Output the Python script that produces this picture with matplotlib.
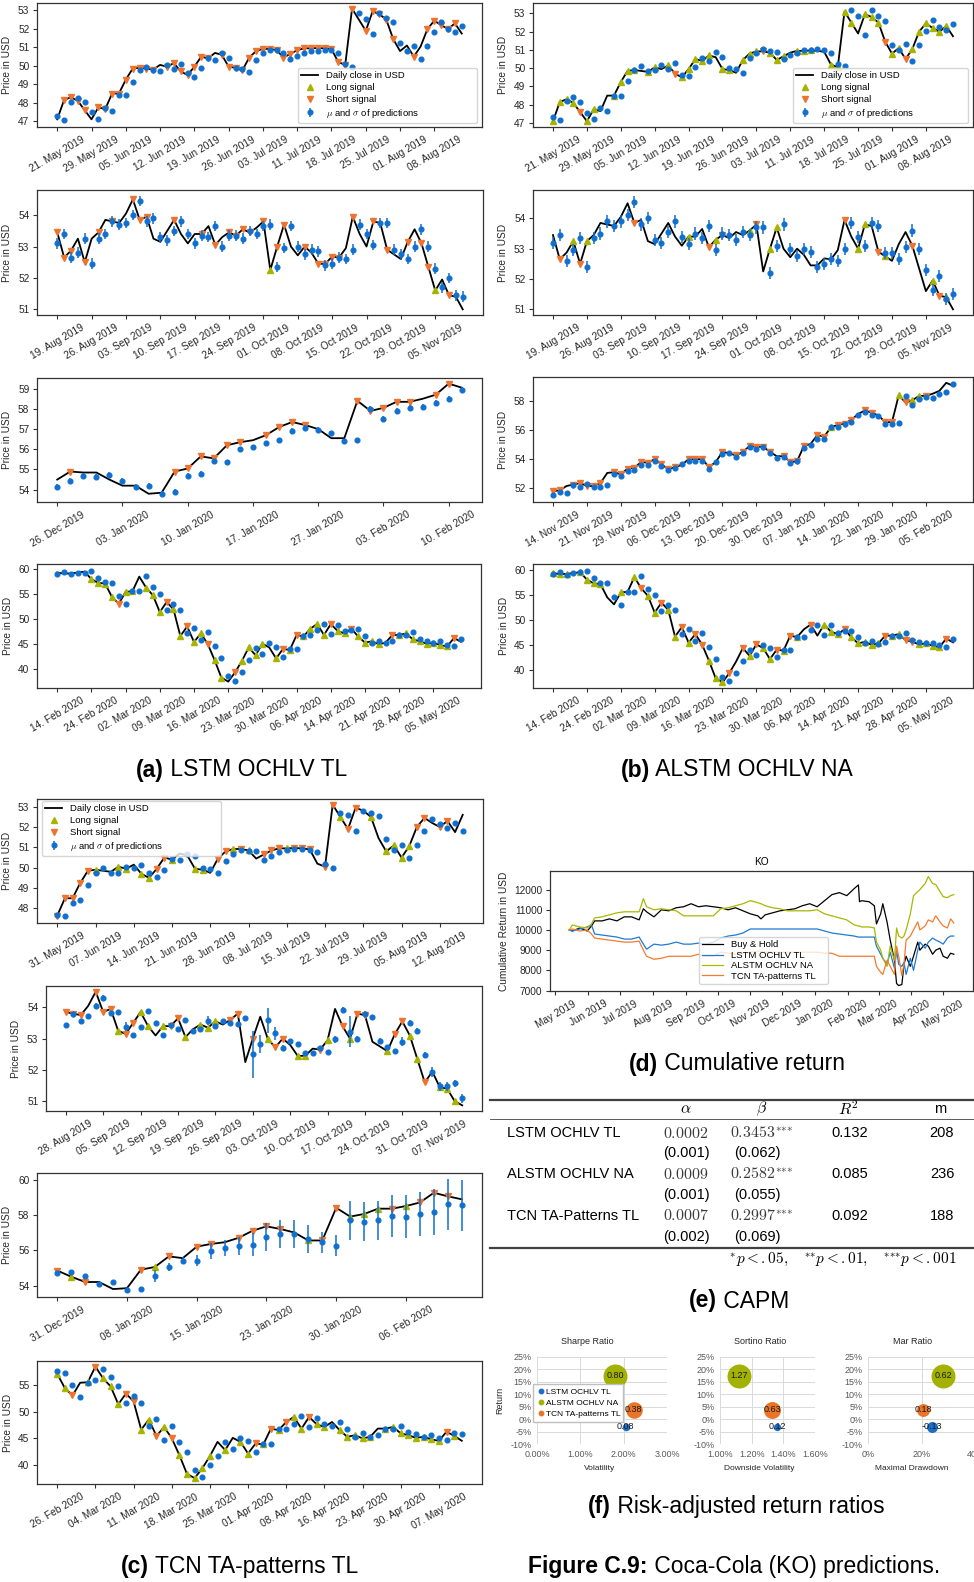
import numpy as np
import pandas as pd
import matplotlib
matplotlib.use("Agg")
import matplotlib.pyplot as plt
import matplotlib.dates as mdates
from matplotlib.lines import Line2D
from matplotlib.text import Annotation
from matplotlib.ticker import MultipleLocator

# ---------------------------------------------------------------- data ----
NYSE_HOLIDAYS = ["2019-05-27", "2019-07-04", "2019-09-02", "2019-11-28", "2019-12-25",
                 "2020-01-01", "2020-01-20", "2020-02-17", "2020-04-10"]

# KO daily close, four 61-session windows
window_start = {"w1": "2019-05-21", "w2": "2019-08-19", "w3": "2019-11-14", "w4": "2020-02-14"}
close_w1 = [47.1, 48.15, 48.3, 48.1, 47.6, 47.1, 47.75, 47.65, 48.5, 48.5,
            49.25, 49.85, 49.9, 49.85, 49.8, 50.05, 49.95, 50.15, 49.7, 49.5,
            49.95, 50.5, 50.4, 50.7, 50.6, 49.95, 49.9, 49.75, 50.45, 50.8,
            50.92, 50.92, 50.85, 50.45, 50.65, 50.85, 50.95, 50.95, 50.97, 50.95,
            50.9, 50.2, 50.05, 53.1, 52.5, 51.9, 52.95, 52.8, 52.5, 51.45,
            50.8, 51.1, 50.5, 51.05, 52.0, 52.45, 52.2, 52.0, 52.3, 51.75, 52.6]
close_w2 = [53.45, 52.65, 52.87, 53.25, 52.5, 53.25, 53.45, 53.85, 53.8, 53.75,
            54.05, 54.5, 53.85, 53.95, 53.25, 53.15, 53.5, 53.85, 53.4, 53.1,
            53.4, 53.4, 53.65, 53.05, 53.3, 53.45, 53.35, 53.55, 53.45, 53.6,
            53.8, 52.25, 53.0, 53.7, 53.0, 52.72, 53.0, 52.8, 52.45, 52.45,
            52.68, 52.65, 52.95, 53.95, 53.4, 53.0, 53.8, 53.75, 52.9, 52.75,
            52.6, 53.15, 53.55, 53.1, 52.35, 51.6, 51.95, 51.45, 51.4, 51.0, 50.87]
close_w3 = [51.8, 51.85, 52.15, 52.25, 52.35, 52.15, 52.15, 52.35, 53.05, 53.1,
            52.95, 53.35, 53.4, 53.8, 53.75, 54.0, 53.65, 53.3, 53.45, 53.6,
            54.0, 54.0, 54.0, 53.45, 53.8, 54.5, 54.4, 54.25, 54.5, 54.9,
            54.85, 54.85, 54.5, 54.2, 54.2, 53.8, 53.85, 54.9, 55.05, 55.65,
            55.55, 56.2, 56.35, 56.45, 56.7, 57.1, 57.35, 57.2, 57.0, 56.55,
            56.55, 58.4, 57.9, 58.05, 58.35, 58.35, 58.5, 58.7, 59.25, 59.05, 58.88]
close_w4 = [59.3, 59.1, 59.15, 59.3, 59.5, 58.0, 57.25, 57.1, 54.45, 53.05,
            55.45, 55.55, 58.5, 56.3, 54.75, 51.4, 53.4, 51.95, 46.6, 48.5,
            45.4, 47.1, 45.0, 41.8, 38.25, 37.45, 39.3, 41.6, 44.3, 42.75,
            45.05, 44.3, 42.1, 44.0, 43.8, 46.8, 46.5, 48.05, 49.0, 46.8,
            49.0, 47.6, 47.1, 48.05, 46.5, 45.25, 45.55, 44.95, 45.25, 46.8,
            46.8, 47.1, 45.9, 45.55, 45.05, 45.25, 44.75, 44.5, 46.2, 45.45, 44.5]

# trading signals per session: L = long, S = short, . = none
signals_a1 = ".SSSS.SSSSSSSSS.SSSSSSS.SSSSSSSSSSSSSSSSSSSS.SSSSS..S.SSSSS."
signals_b1 = "LLLLSLL..LLLL.LL.LSLLLLL.LL.LLLSLLL.LLL..LLLL.LLLSLLSLLLLLL."
signals_c1 = "SSSSSL..LL" ".LLSSL..LL" ".SSLSL.SSS" "LSSS.SSLSS" ".L.LLLLSS." "SS.."
signals_a2 = "SSS.S.S.S." ".SSS...S.." ".S.S.SSSS." "SLSS..S.SS" "SS.S..S.S." ".S.SSL.S.."
signals_b2 = ".S.LSL...." "..S......." "L..SLS...L" "S.LL......" "...S.LL.SL" "...S..LSL."
signals_c2 = "SSS.SSSLSS" "LL.LSSL.LL" "L.SS.S.LSS" ".LL.SL.SLS" "S..LSSLLS." "LLL."
signals_a3 = ".S.......SSSSSS.SSSS...SSSSS.SS."
signals_b3 = "SS.SSSSS.S" "SSSSSSSSS." "SSSS.S.SSS" "SSS.SSSS.S" "SLSSS.SS.S" "SLSLLS...."
signals_c3 = "SLS...SLS." "SS.SSSS.LS" "SLLLSLSSS."
signals_a4 = ".....LLLLS" "LL.LLLSLLS" "LLSLL.SLLL" "L.LSLSLLLL" "SLLSLLLL.S" "LLLLLLLLS."
signals_b4 = "LLL.LLLL.." "L.LSLLSLLS" "LSSLLLS.SL" "SLLSLSL.S." "LLLSLLLLLS" "LLSSLLLLS."
signals_c4 = "LLS.LSLLLS" "SLLSLSLLLL" "L.L.LLSLSL" "SLLSLL.LLL" "LL.LLLLLLL" "LSL."

# mean and standard deviation of the model predictions
pred_a1 = [47.3, 47.05, 48.05, 48.25, 48.05, 47.5, 47.1, 47.7, 47.55, 48.4,
           48.4, 49.15, 49.75, 49.95, 49.75, 49.7, 50.05, 49.85, 50.1, 49.6,
           49.4, 49.9, 50.4, 50.3, 50.7, 50.45, 49.9, 49.85, 49.65, 50.3,
           50.7, 50.85, 50.85, 50.7, 50.35, 50.55, 50.7, 50.8, 50.8, 50.85,
           50.85, 50.7, 50.1, 49.95, 52.85, 52.55, 51.75, 52.85, 52.6, 52.4,
           51.25, 50.8, 51.1, 50.35, 51.05, 51.85, 52.35, 52.0, 51.85, 52.15]
pred_b1 = [47.35, 47.15, 48.2, 48.4, 48.15, 47.55, 47.2, 47.8, 47.65, 48.5,
           48.5, 49.3, 49.9, 50.1, 49.85, 49.9, 50.2, 49.95, 50.3, 49.65,
           49.55, 50.05, 50.55, 50.4, 50.9, 50.6, 50.0, 49.95, 49.75, 50.55,
           50.85, 51.05, 50.95, 50.9, 50.5, 50.7, 50.85, 51.0, 51.0, 51.05,
           51.0, 50.85, 50.25, 50.1, 53.2, 52.85, 51.8, 53.2, 52.85, 52.6,
           51.25, 51.0, 51.35, 50.4, 51.25, 52.05, 52.65, 52.25, 52.1, 52.4]
pred_c1 = [47.68, 47.63, 48.27, 48.43, 49.13, 49.73, 49.97, 49.76, 49.73, 50.05,
           49.97, 50.13, 49.73, 49.52, 49.89, 50.45, 50.37, 50.69, 50.58, 49.97,
           49.92, 49.73, 50.32, 50.65, 50.85, 50.8, 50.8, 50.37, 50.58, 50.77,
           50.85, 50.9, 50.9, 50.85, 50.77, 50.16, 50.0, 52.7, 52.58, 51.78,
           52.8, 52.7, 52.52, 51.39, 50.85, 51.1, 50.48, 51.1, 51.82, 52.39,
           52.15, 51.94, 52.2, 51.82]
pred_a2 = [53.1, 53.4, 52.65, 52.8, 53.25, 52.45, 53.25, 53.4, 53.8, 53.7,
           53.75, 54.0, 54.45, 53.8, 53.9, 53.3, 53.2, 53.5, 53.8, 53.4,
           53.1, 53.35, 53.3, 53.65, 53.0, 53.35, 53.35, 53.25, 53.5, 53.4,
           53.65, 53.7, 52.35, 52.95, 53.65, 53.0, 52.75, 52.9, 52.85, 52.4,
           52.45, 52.65, 52.6, 52.9, 53.7, 53.4, 53.05, 53.75, 53.75, 52.9,
           52.75, 52.6, 53.0, 53.55, 53.0, 52.3, 51.7, 52.0, 51.45, 51.4]
pred_b2 = [53.2, 53.45, 52.6, 52.95, 53.35, 52.4, 53.35, 53.5, 53.9, 53.75,
           53.9, 54.1, 54.55, 53.8, 54.0, 53.3, 53.2, 53.55, 53.9, 53.4,
           53.15, 53.5, 53.35, 53.75, 52.95, 53.5, 53.45, 53.3, 53.55, 53.45,
           53.7, 53.7, 52.2, 53.1, 53.8, 53.0, 52.75, 53.0, 52.9, 52.4,
           52.5, 52.65, 52.6, 53.0, 53.85, 53.4, 53.1, 53.85, 53.75, 52.85,
           52.85, 52.65, 53.05, 53.6, 53.0, 52.3, 51.65, 52.1, 51.35, 51.5]
pred_c2 = [53.43, 53.78, 53.57, 53.72, 54.04, 54.3, 53.83, 53.86, 53.38, 53.11,
           53.38, 53.88, 53.49, 53.11, 53.43, 53.3, 53.59, 53.25, 53.3, 53.57,
           53.4, 53.56, 53.49, 53.47, 53.65, 52.5, 52.83, 53.59, 53.17, 52.69,
           52.93, 52.83, 52.53, 52.53, 52.69, 52.58, 52.98, 53.91, 53.22, 52.98,
           53.79, 53.68, 52.93, 52.72, 52.6, 52.9, 53.51, 53.25, 52.47, 51.94,
           51.48, 51.48, 51.57, 51.09]
pred_a3 = [54.15, 54.45, 54.7, 54.65, 54.75, 54.45, 54.15, 54.2, 53.8, 53.9,
           54.7, 54.8, 55.4, 55.35, 56.0, 56.1, 56.3, 56.45, 56.9, 57.05,
           56.95, 56.8, 56.4, 56.45, 58.0, 57.5, 57.9, 58.05, 58.1, 58.3,
           58.5, 58.95]
pred_b3 = [51.5, 51.75, 51.7, 52.2, 52.1, 52.3, 52.05, 52.1, 52.2, 53.0,
           52.85, 53.2, 53.25, 53.6, 53.6, 53.9, 53.55, 53.25, 53.4, 53.65,
           53.85, 53.9, 53.9, 53.3, 53.8, 54.35, 54.4, 54.15, 54.45, 54.8,
           54.7, 54.8, 54.4, 54.1, 54.15, 53.7, 53.85, 54.75, 55.0, 55.4,
           55.4, 56.2, 56.2, 56.4, 56.55, 57.05, 57.25, 57.05, 57.0, 56.4,
           56.45, 56.5, 58.35, 57.75, 58.15, 58.3, 58.2, 58.45, 58.6, 59.2]
pred_c3 = [54.7, 54.75, 54.55, 54.1, 54.2, 53.75, 53.8, 54.55, 55.05, 55.4,
           55.4, 55.95, 56.1, 56.25, 56.3, 56.75, 56.9, 56.9, 56.65, 56.45,
           56.25, 57.7, 57.6, 57.7, 57.95, 57.9, 58.05, 58.15, 58.6, 58.55]
pred_a4 = [59.1, 59.4, 59.0, 59.2, 59.3, 59.6, 58.3, 57.4, 57.2, 54.6,
           53.0, 55.6, 55.7, 58.6, 56.4, 55.0, 51.8, 53.0, 51.9, 47.2,
           48.2, 45.8, 47.4, 44.6, 42.1, 38.5, 37.6, 39.4, 41.7, 44.2,
           43.0, 45.1, 44.3, 42.4, 44.0, 43.9, 46.6, 46.7, 47.8, 49.1,
           47.0, 48.9, 47.5, 47.8, 47.9, 46.6, 45.2, 45.6, 45.2, 45.5,
           46.7, 46.7, 47.3, 45.9, 45.6, 45.2, 45.5, 44.8, 44.6, 46.0]
pred_b4 = [59.2, 59.5, 59.0, 59.3, 59.5, 59.7, 58.3, 57.3, 57.3, 54.5,
           53.0, 55.5, 55.6, 58.7, 56.2, 55.0, 51.7, 52.9, 52.0, 47.1,
           48.2, 45.8, 47.3, 44.6, 42.2, 38.6, 37.8, 39.3, 41.7, 44.0,
           42.9, 44.9, 44.3, 42.5, 43.9, 43.9, 46.5, 46.6, 48.0, 49.0,
           47.0, 48.9, 47.3, 47.8, 47.8, 46.6, 45.3, 45.7, 45.1, 45.6,
           46.7, 46.8, 47.4, 45.9, 45.6, 45.3, 45.4, 44.9, 44.6, 46.1]
pred_c4 = [57.65, 57.3, 54.95, 52.8, 55.4, 55.9, 58.1, 56.5, 54.8, 51.7,
           53.0, 51.7, 47.25, 48.6, 44.7, 47.3, 44.25, 42.3, 38.9, 37.7,
           39.9, 41.7, 44.2, 43.0, 45.0, 44.5, 42.35, 43.9, 43.9, 46.8,
           46.8, 47.6, 49.1, 47.05, 48.8, 47.6, 47.3, 48.05, 46.75, 45.3,
           45.9, 45.2, 45.5, 46.7, 46.75, 47.25, 46.1, 45.8, 45.3, 45.55,
           44.95, 44.65, 46.0, 45.75]

sd_a1, sd_b1, sd_c1 = 0.06, 0.06, 0.07
sd_a2, sd_b2 = 0.17, 0.2
sd_c2 = [0.05, 0.05, 0.05, 0.05, 0.1, 0.08, 0.05, 0.05, 0.15, 0.05,
         0.05, 0.05, 0.05, 0.05, 0.05, 0.05, 0.05, 0.05, 0.05, 0.15,
         0.05, 0.05, 0.05, 0.05, 0.05, 0.75, 0.3, 0.4, 0.2, 0.1,
         0.05, 0.05, 0.05, 0.05, 0.05, 0.05, 0.12, 0.1, 0.5, 0.1,
         0.08, 0.05, 0.08, 0.05, 0.05, 0.15, 0.08, 0.1, 0.1, 0.15,
         0.15, 0.15, 0.1, 0.15]
sd_a3, sd_b3 = 0.13, 0.06
sd_c3 = [0.05, 0.05, 0.05, 0.05, 0.05, 0.08, 0.1, 0.35, 0.2, 0.2,
         0.3, 0.45, 0.45, 0.5, 0.65, 0.8, 0.8, 0.8, 0.8, 0.6,
         0.6, 1.1, 1.1, 1.1, 1.2, 1.2, 1.25, 1.3, 1.45, 1.45]
sd_a4, sd_b4, sd_c4 = 0.3, 0.3, 0.3

# cumulative return of the strategies (USD, start capital 10000)
cum_dates = ["2019-05-14", "2019-05-17", "2019-05-24", "2019-05-31",
             "2019-06-04", "2019-06-07", "2019-06-14", "2019-06-21", "2019-06-28",
             "2019-07-05", "2019-07-12", "2019-07-19", "2019-07-23", "2019-07-26",
             "2019-08-02", "2019-08-09", "2019-08-16", "2019-08-23", "2019-08-30",
             "2019-09-06", "2019-09-13", "2019-09-20", "2019-09-27",
             "2019-10-04", "2019-10-11", "2019-10-18", "2019-10-25",
             "2019-11-01", "2019-11-08", "2019-11-11", "2019-11-15", "2019-11-22", "2019-11-29",
             "2019-12-06", "2019-12-13", "2019-12-20", "2019-12-27",
             "2020-01-03", "2020-01-10", "2020-01-17", "2020-01-24", "2020-01-31",
             "2020-02-07", "2020-02-11", "2020-02-12", "2020-02-14", "2020-02-21", "2020-02-26", "2020-02-28",
             "2020-03-03", "2020-03-05", "2020-03-09", "2020-03-12", "2020-03-16", "2020-03-18",
             "2020-03-20", "2020-03-23", "2020-03-25", "2020-03-27", "2020-03-31",
             "2020-04-03", "2020-04-07", "2020-04-09", "2020-04-14", "2020-04-17",
             "2020-04-21", "2020-04-24", "2020-04-28",
             "2020-05-01", "2020-05-05", "2020-05-08", "2020-05-11"]
cum_buy_hold = [10000, 9950, 10100, 9950,
                10200, 10450, 10450, 10550, 10450,
                10650, 10650, 10500, 11050, 10900,
                10650, 11000, 10950, 11100, 11150,
                11300, 11150, 11200, 11150,
                11100, 11000, 11100, 10950,
                10800, 10700, 10550, 10750, 10850, 10950,
                11000, 11050, 11200, 11300,
                11150, 11450, 11750, 11850, 11700,
                12050, 12230, 11400, 11450, 11400, 11200, 10300,
                10800, 11300, 10400, 9500, 8500, 7350, 7250, 7300, 8300, 8700, 8200,
                8700, 9400, 9000, 9300, 9200, 8800, 9000, 9100,
                8700, 8600, 8850, 8800]
cum_lstm = [10000, 9950, 10050, 10150,
            10250, 9800, 9750, 9700, 9650,
            9550, 9550, 9650, 9300, 9050,
            9300, 9250, 9300, 9400, 9300,
            9300, 9350, 9300, 9400,
            9600, 9700, 9750, 9850,
            10050, 10050, 10050, 10050, 10050, 10050,
            10050, 10050, 10050, 10050,
            10050, 9950, 9850, 9800, 9750,
            9700, 9650, 9650, 9650, 9650, 9650, 9200,
            8800, 8600, 8300, 8900, 8100, 9000, 8300, 8200, 8400, 7800, 8600,
            8000, 9000, 9400, 9100, 9400, 9600, 9500, 9400,
            9300, 9600, 9700, 9700]
cum_alstm = [10000, 10250, 10150, 10100,
             10300, 10600, 10650, 10750, 10850,
             10900, 10900, 10900, 11550, 11150,
             11000, 11050, 11000, 10950, 10700,
             10700, 10700, 10700, 10700,
             11050, 11100, 11200, 11300,
             11450, 11350, 11300, 11200, 11100, 11050,
             10950, 10950, 10950, 10950,
             11000, 10800, 10700, 10600, 10500,
             10250, 10200, 10200, 10150, 10150, 10100, 9400,
             9000, 8600, 8200, 9200, 8500, 10100, 9700, 9600, 9700, 10000, 10800,
             11700, 11900, 12000, 12300, 12650, 12300, 12250, 11900,
             11650, 11600, 11700, 11750]
cum_tcn = [10000, 10050, 9950, 10000,
           9800, 9600, 9550, 9500, 9450,
           9400, 9400, 9450, 9000, 8700,
           8550, 8600, 8700, 8700, 8700,
           8700, 8800, 8700, 8700,
           8900, 8850, 8800, 8850,
           8900, 8950, 8950, 8900, 8900, 8900,
           8900, 8900, 8900, 8900,
           8900, 8850, 8850, 8700, 8700,
           8700, 8700, 8700, 8700, 8700, 8700, 8200,
           7900, 7800, 8500, 8200, 7800, 9200, 8700, 7750, 8300, 9500, 9700,
           10000, 10400, 10000, 10200, 10500, 10400, 10700, 10400,
           10200, 10100, 10550, 10350]

# CAPM regression
capm_models = ["LSTM OCHLV TL", "ALSTM OCHLV NA", "TCN TA-Patterns TL"]
capm_alpha = [0.0002, 0.0009, 0.0007]
capm_alpha_se = [0.001, 0.001, 0.002]
capm_beta = [0.3453, 0.2582, 0.2997]
capm_beta_stars = [3, 3, 3]
capm_beta_se = [0.062, 0.055, 0.069]
capm_r2 = [0.132, 0.085, 0.092]
capm_m = [208, 236, 188]

# risk-adjusted return ratios
ratio_models = ["LSTM OCHLV TL", "ALSTM OCHLV NA", "TCN TA-patterns TL"]
ratio_return = [-0.03, 0.175, 0.037]
ratio_volatility = [0.0205, 0.0181, 0.0223]
ratio_sharpe = [0.08, 0.80, 0.38]
ratio_downside_vol = [0.0136, 0.0112, 0.0133]
ratio_sortino = [0.12, 1.27, 0.63]
ratio_max_drawdown = [0.237, 0.278, 0.204]
ratio_mar = [-0.13, 0.62, 0.18]

# --------------------------------------------------------------- style ----
plt.rcParams.update({
    "font.family": ["Liberation Sans", "DejaVu Sans"],
    "mathtext.fontset": "cm",
    "axes.edgecolor": "#333333",
    "axes.linewidth": 0.9,
    "xtick.color": "#333333",
    "ytick.color": "#333333",
    "xtick.labelcolor": "#262626",
    "ytick.labelcolor": "#262626",
    "xtick.labelsize": 7.3,
    "ytick.labelsize": 7.3,
    "axes.labelsize": 7.3,
    "axes.labelcolor": "#262626",
    "xtick.major.size": 3.0,
    "ytick.major.size": 3.0,
    "xtick.major.pad": 2.5,
    "ytick.major.pad": 2.5,
    "xtick.major.width": 0.8,
    "ytick.major.width": 0.8,
    "legend.fontsize": 6.8,
})

BLUE = "#1170cf"
ORANGE = "#ec7330"
GREEN = "#a6b300"

W, H = 974, 1582
fig = plt.figure(figsize=(W / 100, H / 100), dpi=100)


def add_px_axes(left, top, right, bottom):
    return fig.add_axes([left / W, 1 - bottom / H, (right - left) / W, (bottom - top) / H])


def px_box_in_axes(rect, box):
    """Pixel box (l, t, r, b) expressed in the axes fraction of pixel rect."""
    l, t, r, b = rect
    bl, bt, br, bb = box
    return ((bl - l) / (r - l), (b - bb) / (b - t), (br - bl) / (r - l), (bb - bt) / (b - t))


def ftext(x, y, s, **kw):
    return fig.text(x / W, 1 - y / H, s, **kw)


def hline(x0, x1, y, lw, color="#404040"):
    fig.add_artist(Line2D([x0 / W, x1 / W], [1 - y / H, 1 - y / H],
                          transform=fig.transFigure, color=color, lw=lw))


def session_dates(start, n):
    return pd.bdate_range(start=start, periods=n, freq="C", holidays=NYSE_HOLIDAYS)


def stars(k):
    return "{*}" * k


closes = {"w1": close_w1, "w2": close_w2, "w3": close_w3, "w4": close_w4}


def price_panel(rect, window, first, n, signals, pred_mu, pred_sd, ystep, legend_box=None):
    ax = add_px_axes(*rect)
    full = closes[window]
    dates = session_dates(window_start[window], len(full))
    x = np.arange(n)
    y = np.asarray(full[first:first + n], float)
    sig = np.array([signals[i] if i < len(signals) else "." for i in range(n)])
    ax.plot(x, y, color="black", lw=1.3, label="Daily close in USD", zorder=2)
    ax.plot(x[sig == "L"], y[sig == "L"], ls="none", marker="^", ms=5, color=GREEN,
            label="Long signal", zorder=3)
    ax.plot(x[sig == "S"], y[sig == "S"], ls="none", marker="v", ms=5, color=ORANGE,
            label="Short signal", zorder=3)
    mu = np.asarray(pred_mu, float)
    sd = np.broadcast_to(np.asarray(pred_sd, float), mu.shape)
    ax.errorbar(x[:len(mu)], mu, yerr=sd, fmt="o", ms=3.4, color=BLUE, ecolor=BLUE,
                elinewidth=1.1, capsize=0, label=r"$\mu$ and $\sigma$ of predictions",
                zorder=4)
    ticks = x[::5]
    ax.set_xticks(ticks)
    ax.set_xticklabels([dates[first + i].strftime("%d. %b %Y") for i in ticks], rotation=30)
    ax.yaxis.set_major_locator(MultipleLocator(ystep))
    ax.set_ylabel("Price in USD")
    if legend_box:
        ax.legend(loc="lower left", bbox_to_anchor=px_box_in_axes(rect, legend_box),
                  mode="expand", borderaxespad=0, handlelength=1.8, labelspacing=0.3,
                  borderpad=0.35)
    return ax


panels = [
    ((37, 3, 482, 127), "w1", 0, 60, signals_a1, pred_a1, sd_a1, 1, (298, 70, 477, 123)),
    ((533, 3, 973, 127), "w1", 0, 60, signals_b1, pred_b1, sd_b1, 1, (793, 70, 968, 123)),
    ((37, 190, 483, 315), "w2", 0, 60, signals_a2, pred_a2, sd_a2, 1, None),
    ((533, 190, 973, 315), "w2", 0, 60, signals_b2, pred_b2, sd_b2, 1, None),
    ((37, 378, 482, 502), "w3", 28, 32, signals_a3, pred_a3, sd_a3, 1, None),
    ((533, 377, 973, 502), "w3", 0, 60, signals_b3, pred_b3, sd_b3, 2, None),
    ((37, 564, 481, 688), "w4", 0, 60, signals_a4, pred_a4, sd_a4, 5, None),
    ((533, 564, 973, 688), "w4", 0, 60, signals_b4, pred_b4, sd_b4, 5, None),
    ((37, 799, 483, 923), "w1", 7, 54, signals_c1, pred_c1, sd_c1, 1, (42, 803, 221, 856)),
    ((46, 986, 482, 1111), "w2", 7, 54, signals_c2, pred_c2, sd_c2, 1, None),
    ((37, 1173, 482, 1297), "w3", 31, 30, signals_c3, pred_c3, sd_c3, 2, None),
    ((37, 1361, 482, 1484), "w4", 7, 54, signals_c4, pred_c4, sd_c4, 5, None),
]
for spec in panels:
    price_panel(*spec)

# ------------------------------------------------------ cumulative return ----
rect_d = (550, 871, 973, 991)
axd = add_px_axes(*rect_d)
cum_dt = pd.to_datetime(cum_dates)
axd.plot(cum_dt, cum_buy_hold, color="black", lw=0.9, label="Buy & Hold")
axd.plot(cum_dt, cum_lstm, color="#1f7ad6", lw=0.9, label="LSTM OCHLV TL")
axd.plot(cum_dt, cum_alstm, color="#a9b800", lw=0.9, label="ALSTM OCHLV NA")
axd.plot(cum_dt, cum_tcn, color="#f27c30", lw=0.9, label="TCN TA-patterns TL")
axd.xaxis.set_major_locator(mdates.MonthLocator())
axd.xaxis.set_major_formatter(mdates.DateFormatter("%b %Y"))
axd.yaxis.set_major_locator(MultipleLocator(1000))
plt.setp(axd.get_xticklabels(), rotation=30)
axd.set_title("KO", fontsize=7.3, pad=4)
axd.set_ylabel("Cumulative Return in USD")
axd.legend(loc="lower left", bbox_to_anchor=px_box_in_axes(rect_d, (699, 933, 828, 984)),
           mode="expand", borderaxespad=0, labelspacing=0.15, handlelength=2.2,
           borderpad=0.35)

# ---------------------------------------------------------------- CAPM ----
hline(490, 974, 1100, 1.6)
hline(490, 974, 1119, 0.6)
hline(490, 974, 1248, 1.6)
ftext(686, 1109, r"$\alpha$", ha="center", va="center", fontsize=11.5)
ftext(762, 1109, r"$\beta$", ha="center", va="center", fontsize=11.5)
ftext(848, 1108, r"$R^2$", ha="center", va="center", fontsize=11.5)
ftext(940, 1109, "m", ha="center", va="center", fontsize=10.5)
for i, name in enumerate(capm_models):
    y = 1133 + i * 41.5
    yse = y + 20.5
    ftext(507, y, name, ha="left", va="center", fontsize=10.5)
    ftext(686, y, f"${capm_alpha[i]:.4f}$", ha="center", va="center", fontsize=11.5,
          color="#3a3a3a")
    ftext(730, y, f"${capm_beta[i]:.4f}^{{{stars(capm_beta_stars[i])}}}$", ha="left",
          va="center", fontsize=11.5, color="#3a3a3a")
    ftext(850, y, f"{capm_r2[i]:.3f}", ha="center", va="center", fontsize=10.5)
    ftext(942, y, f"{capm_m[i]}", ha="center", va="center", fontsize=10.5)
    ftext(686, yse, f"({capm_alpha_se[i]:.3f})", ha="center", va="center", fontsize=10.5)
    ftext(757, yse, f"({capm_beta_se[i]:.3f})", ha="center", va="center", fontsize=10.5)
ftext(729, 1259,
      rf"$^{{{stars(1)}}}p<.05,\quad ^{{{stars(2)}}}p<.01,\quad ^{{{stars(3)}}}p<.001$",
      ha="left", va="center", fontsize=11)

# ------------------------------------------------- risk-adjusted ratios ----
BUBBLE_COLORS = ["#1a6fc9", "#a3b100", "#ea7428"]
GRID_GREY = "#d9d9d9"
LABEL_GREY = "#595959"


def ratio_panel(rect, xvals, ratios, xlim, xticks, xfmt, title, title_x, xlabel, xlabel_x,
                legend_box=None):
    ax = add_px_axes(*rect)
    vmax = max(abs(v) for v in ratios)
    for xv, rv, v, c in zip(xvals, ratio_return, ratios, BUBBLE_COLORS):
        s = (2 * 12 * 0.72) ** 2 * abs(v) / vmax
        ax.scatter([xv], [rv], s=s, color=c, linewidths=0, zorder=3, clip_on=False)
        ax.text(xv, rv, f"{v:.2f}", ha="center", va="center", fontsize=6.5, zorder=4,
                color="#1a1a1a")
    ax.set_xlim(*xlim)
    ax.set_ylim(-0.10, 0.25)
    ax.set_xticks(xticks)
    ax.set_xticklabels([xfmt(t) for t in xticks])
    yt = np.arange(-0.10, 0.2501, 0.05)
    ax.set_yticks(yt)
    ax.set_yticklabels([f"{round(t * 100):d}%" for t in yt])
    ax.tick_params(length=0, labelsize=6.5, labelcolor=LABEL_GREY, pad=4)
    ax.grid(True, color=GRID_GREY, lw=0.7)
    ax.set_axisbelow(True)
    for sp in ax.spines.values():
        sp.set_visible(False)
    ftext(title_x, 1342, title, ha="center", va="center", fontsize=6.5, color="#262626")
    ftext(xlabel_x, 1468, xlabel, ha="center", va="center", fontsize=6, color="#262626")
    if legend_box:
        handles = [Line2D([], [], ls="none", marker="o", ms=3.2, color=c)
                   for c in BUBBLE_COLORS]
        ax.legend(handles, ratio_models, loc="lower left",
                  bbox_to_anchor=px_box_in_axes(rect, legend_box), mode="expand",
                  borderaxespad=0, fontsize=6.0, frameon=True, fancybox=False,
                  edgecolor="#bfbfbf", framealpha=1, handletextpad=0.2, handlelength=0.8,
                  labelspacing=0.35, borderpad=0.5)
    return ax


ratio_panel((537, 1357, 667, 1444), ratio_volatility, ratio_sharpe, (0, 0.03),
            [0, 0.01, 0.02, 0.03], lambda t: f"{t * 100:.2f}%", "Sharpe Ratio", 587,
            "Volatility", 600, legend_box=(533, 1382, 623, 1422))
ratio_panel((720, 1357, 815, 1444), ratio_downside_vol, ratio_sortino, (0.010, 0.016),
            [0.010, 0.012, 0.014, 0.016], lambda t: f"{t * 100:.2f}%", "Sortino Ratio", 760,
            "Downside Volatility", 759)
ratio_panel((868, 1357, 976, 1444), ratio_max_drawdown, ratio_mar, (0, 0.40),
            [0, 0.2, 0.4], lambda t: f"{t * 100:.0f}%", "Mar Ratio", 913,
            "Maximal Drawdown", 912)
ftext(500, 1400, "Return", rotation=90, ha="center", va="center", fontsize=6.5,
      color="#262626")

# ------------------------------------------------------------- captions ----
def caption(x, y, bold, rest, size=16.5):
    t = ftext(x, y, bold, ha="left", va="center", fontsize=size, fontweight="bold")
    ann = Annotation(rest, xy=(1, 0), xycoords=t, xytext=(0, 0), textcoords="offset points",
                     ha="left", va="bottom", fontsize=size)
    fig.add_artist(ann)


caption(136, 770, "(a)", " LSTM OCHLV TL")
caption(621, 770, "(b)", " ALSTM OCHLV NA")
caption(629, 1064, "(d)", " Cumulative return")
caption(689, 1301, "(e)", " CAPM")
caption(588, 1507, "(f)", " Risk-adjusted return ratios")
caption(121, 1566, "(c)", " TCN TA-patterns TL")
caption(528, 1566, "Figure C.9:", " Coca-Cola (KO) predictions.")

fig.savefig("out.png", dpi=100)
